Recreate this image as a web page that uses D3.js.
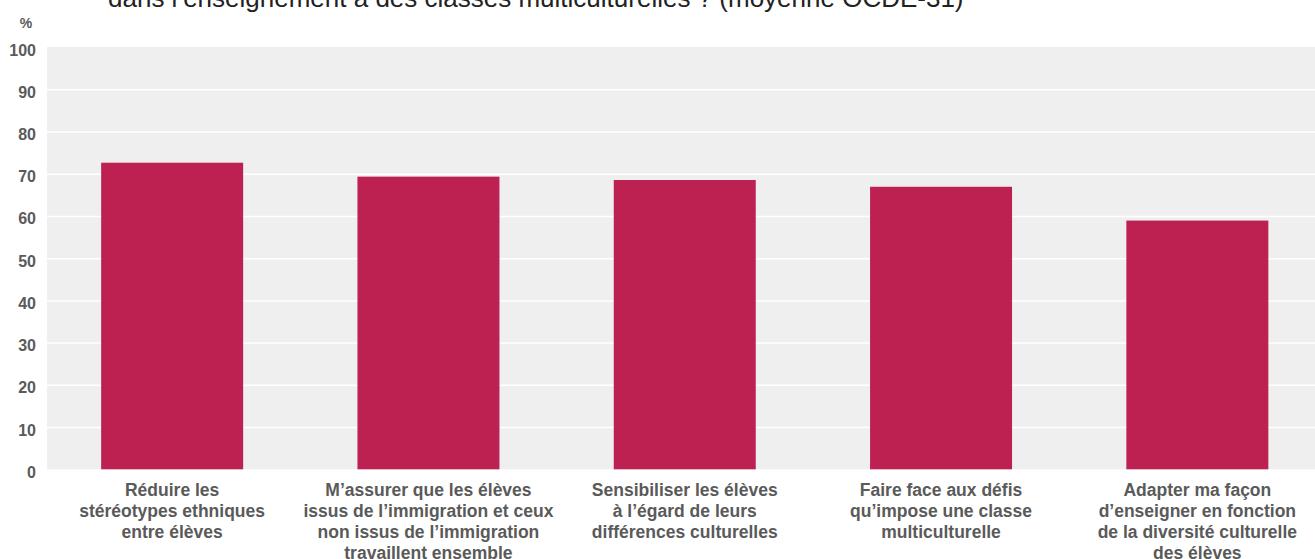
<!DOCTYPE html>
<html>
<head>
<meta charset="utf-8">
<script src="https://cdn.jsdelivr.net/npm/d3@7"></script>
<style>
  html, body { margin: 0; padding: 0; background: #ffffff; }
  svg { display: block; }
</style>
</head>
<body>
<svg id="chart" width="1315" height="559"></svg>
<script>
const titleText = "dans l’enseignement à des classes multiculturelles ? (moyenne OCDE-31)";
const unitLabel = "%";
const categories = [
  ["Réduire les", "stéréotypes ethniques", "entre élèves"],
  ["M’assurer que les élèves", "issus de l’immigration et ceux", "non issus de l’immigration", "travaillent ensemble"],
  ["Sensibiliser les élèves", "à l’égard de leurs", "différences culturelles"],
  ["Faire face aux défis", "qu’impose une classe", "multiculturelle"],
  ["Adapter ma façon", "d’enseigner en fonction", "de la diversité culturelle", "des élèves"]
];
const values = [72.6, 69.3, 68.5, 66.9, 58.9];
const yTicks = [0, 10, 20, 30, 40, 50, 60, 70, 80, 90, 100];

const svg = d3.select("#chart");
const font = "'Liberation Sans', Arial, Helvetica, sans-serif";

const plotLeft = 47, plotRight = 1315, plotTop = 47, plotBottom = 469.3;

const y = d3.scaleLinear().domain([0, 100]).range([plotBottom, plotTop]);
const x = d3.scaleBand()
  .domain(d3.range(categories.length))
  .range([44, 1325.5])
  .paddingInner(0.446)
  .paddingOuter(0.223);

// title (cut at top)
svg.append("text")
  .attr("x", 108).attr("y", 7)
  .attr("font-family", font).attr("font-size", 26)
  .attr("fill", "#222")
  .text(titleText);

// plot background
svg.append("rect")
  .attr("x", plotLeft).attr("y", plotTop)
  .attr("width", plotRight - plotLeft).attr("height", plotBottom - plotTop)
  .attr("fill", "#efefef");

// gridlines
const yAxis = d3.axisLeft(y).tickValues(yTicks).tickSize(-(plotRight - plotLeft)).tickFormat(d => d);
const gAxis = svg.append("g").attr("transform", `translate(${plotLeft},0)`).call(yAxis);
gAxis.select(".domain").remove();
gAxis.selectAll(".tick line")
  .attr("stroke", "#ffffff").attr("stroke-width", 1.5)
  .attr("display", d => (d === 0 || d === 100) ? "none" : null);
gAxis.selectAll(".tick text")
  .attr("x", -11).attr("dy", "0.5em")
  .attr("font-family", font).attr("font-size", 16).attr("font-weight", "bold")
  .attr("fill", "#5a5a5a");

// unit label
svg.append("text")
  .attr("x", 26).attr("y", 28)
  .attr("text-anchor", "middle")
  .attr("font-family", font).attr("font-size", 14).attr("font-weight", "bold")
  .attr("fill", "#5a5a5a")
  .text(unitLabel);

// bars
svg.append("g").selectAll("rect")
  .data(values)
  .join("rect")
  .attr("x", (d, i) => x(i))
  .attr("width", x.bandwidth())
  .attr("y", d => y(d))
  .attr("height", d => y(0) - y(d))
  .attr("fill", "#bc2152");

// category labels
const labels = svg.append("g").selectAll("text")
  .data(categories)
  .join("text")
  .attr("text-anchor", "middle")
  .attr("font-family", font).attr("font-size", 17.5).attr("font-weight", "bold")
  .attr("fill", "#5a5a5a");
labels.each(function(lines, i) {
  const t = d3.select(this);
  lines.forEach((ln, j) => {
    t.append("tspan")
      .attr("x", x(i) + x.bandwidth() / 2)
      .attr("y", 495.5 + j * 21)
      .text(ln);
  });
});
</script>
</body>
</html>
